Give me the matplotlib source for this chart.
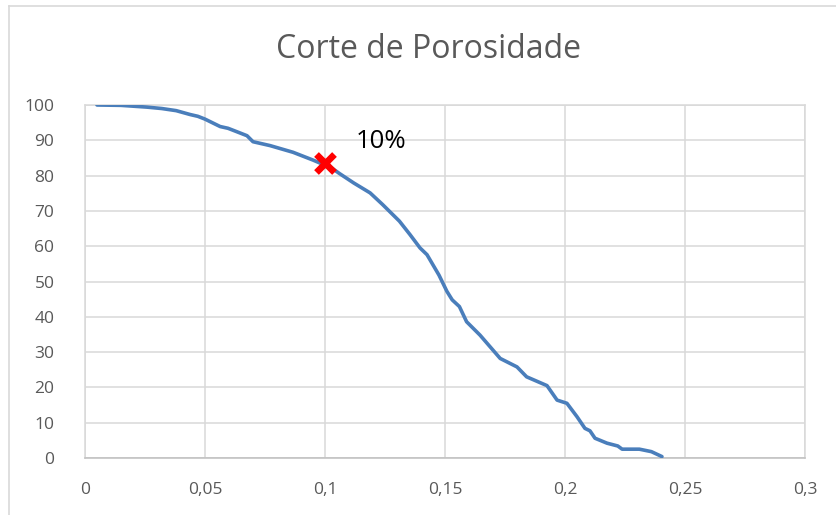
import matplotlib
matplotlib.use("Agg")
import matplotlib.pyplot as plt
from matplotlib.lines import Line2D

# Porosity cut-off curve (cumulative % above each porosity value)
porosity = [0.005, 0.015, 0.0258, 0.032, 0.038, 0.0438, 0.047, 0.05, 0.0563,
            0.0596, 0.063, 0.0675, 0.070, 0.0771, 0.0867, 0.095, 0.1029, 0.106,
            0.112, 0.1188, 0.124, 0.131, 0.1354, 0.1396, 0.1425, 0.1475, 0.1508,
            0.153, 0.156, 0.159, 0.1646, 0.173, 0.18, 0.184, 0.1925, 0.1967,
            0.2008, 0.205, 0.2083, 0.2104, 0.2125, 0.2175, 0.222, 0.2238, 0.231,
            0.236, 0.2404]
percent = [100, 99.9, 99.4, 99.0, 98.4, 97.3, 96.8, 96.0, 93.9,
           93.4, 92.5, 91.3, 89.6, 88.5, 86.6, 84.4, 82.1, 80.6,
           77.9, 75.1, 71.8, 67.1, 63.3, 59.5, 57.6, 51.8, 47.2,
           44.8, 42.9, 38.6, 34.8, 28.2, 25.8, 23.0, 20.5, 16.4,
           15.5, 11.7, 8.4, 7.7, 5.6, 4.2, 3.4, 2.5, 2.5,
           1.8, 0.4]

cut_x = [0.1]
cut_y = [83.7]
cut_label = "10%"

x_ticks = [0, 0.05, 0.1, 0.15, 0.2, 0.25, 0.3]
x_tick_labels = ["0", "0,05", "0,1", "0,15", "0,2", "0,25", "0,3"]
y_ticks = list(range(0, 101, 10))

title = "Corte de Porosidade"

W, H = 836, 515
fig = plt.figure(figsize=(W / 100, H / 100), dpi=100)
ax = fig.add_axes([85 / W, 1 - 458 / H, 720 / W, 353 / H])

grid_c = "#d9d9d9"
text_c = "#595959"
font = ["Open Sans", "DejaVu Sans"]

ax.plot(porosity, percent, color="#4a7ebb", lw=2.6, solid_joinstyle="round",
        solid_capstyle="round", zorder=3)
ax.plot(cut_x, cut_y, linestyle="none", marker="x", color="#ff0000",
        markersize=13, mew=4.8, zorder=4)
ax.text(0.1128, 89.6, cut_label, fontsize=18.5, color="black", va="center",
        ha="left", family=font)

ax.set_xlim(0, 0.3)
ax.set_ylim(0, 100)
ax.set_xticks(x_ticks)
ax.set_xticklabels(x_tick_labels)
ax.set_yticks(y_ticks)
ax.grid(True, color=grid_c, lw=1.1)
ax.set_axisbelow(True)
for side in ["left", "right", "top"]:
    ax.spines[side].set_color(grid_c)
    ax.spines[side].set_linewidth(1.1)
ax.spines["bottom"].set_color("#bfbfbf")
ax.spines["bottom"].set_linewidth(1.1)
ax.tick_params(length=0, labelsize=12.5, colors=text_c)
ax.tick_params(axis="x", pad=17)
ax.tick_params(axis="y", pad=22)
for lab in ax.get_xticklabels() + ax.get_yticklabels():
    lab.set_family(font)

fig.text(428 / W, 1 - 50 / H, title, ha="center", va="center", fontsize=23,
         color=text_c, family=font)

# Chart area outline
fig.add_artist(Line2D([9 / W, 1], [1 - 6 / H, 1 - 6 / H], color=grid_c, lw=1.2))
fig.add_artist(Line2D([9 / W, 9 / W], [0, 1 - 6 / H], color=grid_c, lw=1.2))

fig.savefig("out.png", dpi=100)
